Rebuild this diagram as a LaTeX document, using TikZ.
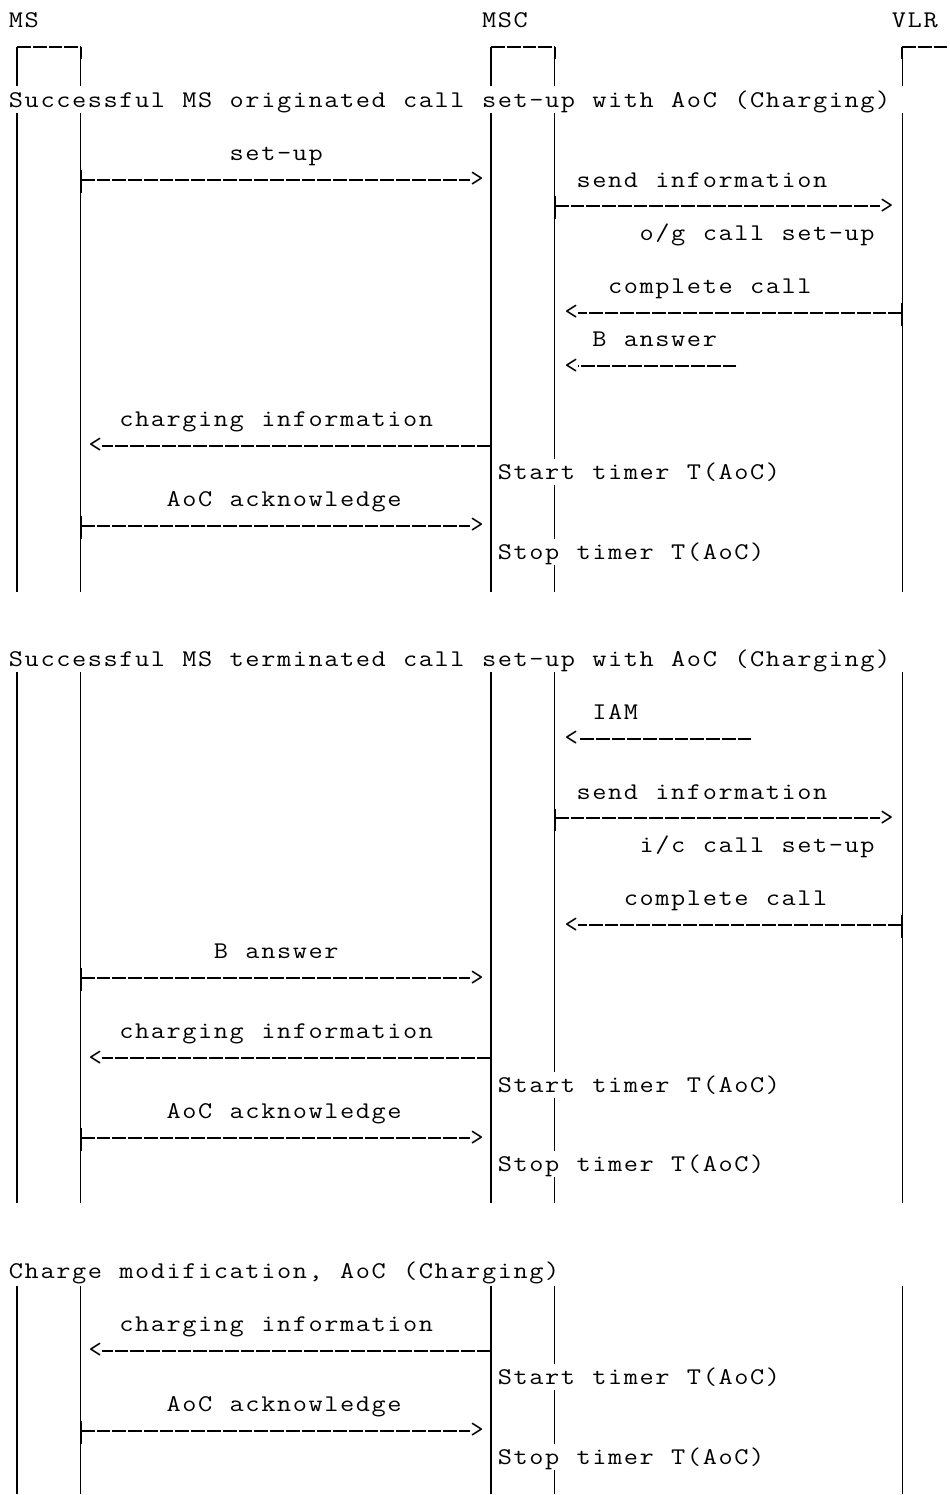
\documentclass[tikz,border=0pt]{standalone}
\usepackage{fontspec}
\usepackage{graphicx}
\newfontfamily\mono{Latin Modern Mono}

% one character per fixed cell, as on a text terminal
\newcommand\cellw{15.8pt}
\def\grid#1{\gridA#1\relax}
\def\gridA#1{\ifx#1\relax\else\makebox[\cellw]{\scalebox{1.15}[1]{#1}}\expandafter\gridA\fi}

\tikzstyle{life} = [draw, line width=1.1pt]
\tikzstyle{msg} = [draw, line width=2pt, dash pattern=on 13.8pt off 2pt]
\tikzstyle{tick} = [draw, line width=2pt]
\tikzstyle{lbl} = [font=\mono\fontsize{24}{26}\selectfont, inner sep=0pt, anchor=west, text height=20.5pt, text depth=5.5pt]
\tikzstyle{timer} = [lbl, fill=white]
\tikzstyle{head} = [font=\mono\fontsize{26}{26}\selectfont, inner sep=0pt]

\begin{document}
\begin{tikzpicture}[x=1pt, y=-26.67pt]

	\path[fill=white] (0,-0.75) rectangle (948,55.31); % page

	% entities
	\node[lbl] (ms) at (8,0) {\grid{MS}};
	\node[lbl] (msc) at (482,0) {\grid{MSC}};
	\node[lbl] (vlr) at (892.8,0) {\grid{VLR}};

	\draw[tick] (17,1.45) -- (17,1) (81,1) -- (81,1.45);
	\draw[msg] (17,1) -- (81,1);
	\draw[tick] (492,1.45) -- (492,1) (556,1) -- (556,1.45);
	\draw[msg] (492,1) -- (556,1);
	\draw[tick] (904,1.45) -- (904,1);
	\draw[msg] (904,1) -- (950,1);

	% lifelines
	\draw[life] (17,1.45) -- (17,2.5) (17,3.5) -- (17,21.5) (17,24.5) -- (17,44.45) (17,47.55) -- (17,55.4);
	\draw[life] (81,1.45) -- (81,2.5) (81,3.5) -- (81,21.5) (81,24.5) -- (81,44.45) (81,47.55) -- (81,55.4);
	\draw[life] (492,1.45) -- (492,2.5) (492,3.5) -- (492,21.5) (492,24.5) -- (492,44.45) (492,47.55) -- (492,55.4);
	\draw[life] (556,1.45) -- (556,2.5) (556,3.5) -- (556,21.5) (556,24.5) -- (556,44.45) (556,47.55) -- (556,55.4);
	\draw[life] (904,1.45) -- (904,2.5) (904,3.5) -- (904,21.5) (904,24.5) -- (904,44.45) (904,47.55) -- (904,55.4);

	% originated call
	\node[lbl] (orig) at (8,3) {\grid{Successful~MS~originated~call~set-up~with~AoC~(Charging)}};

	\node[lbl] (setup) at (229.2,5) {\grid{set-up}};
	\coordinate (o6) at (81,6);
	\node[head] (h6) at (478,6) {>};
	\draw[msg] (o6) -- (h6.west);
	\draw[tick] (o6) ++(0,-0.37) -- ++(0,0.86);

	\node[lbl] (send1) at (576.8,6) {\grid{send~information}};
	\coordinate (o7) at (556,7);
	\node[head] (h7) at (888.5,7) {>};
	\draw[msg] (o7) -- (h7.west);
	\draw[tick] (o7) ++(0,-0.37) -- ++(0,0.86);
	\node[lbl] (ogcall) at (640,8) {\grid{o/g~call~set-up}};

	\node[lbl] (compl1) at (608.4,10) {\grid{complete~call}};
	\coordinate (o11) at (904,11);
	\node[head] (h11) at (572.5,11) {<};
	\draw[msg] (o11) -- (h11.east);
	\draw[tick] (o11) ++(0,-0.37) -- ++(0,0.86);

	\node[lbl] (ans1) at (592.6,12) {\grid{B~answer}};
	\coordinate (o13) at (738,13);
	\node[head] (h13) at (572.5,13) {<};
	\draw[msg] (o13) -- (h13.east);

	\node[lbl] (chg1) at (118.6,15) {\grid{charging~information}};
	\coordinate (o16) at (492,16);
	\node[head] (h16) at (95.5,16) {<};
	\draw[msg] (o16) -- (h16.east);
	\draw[tick] (o16) ++(0,-0.37) -- ++(0,0.86);
	\node[timer] (start1) at (497.8,17) {\grid{Start~timer~T(AoC)}};

	\node[lbl] (ack1) at (166,18) {\grid{AoC~acknowledge}};
	\coordinate (o19) at (81,19);
	\node[head] (h19) at (478,19) {>};
	\draw[msg] (o19) -- (h19.west);
	\draw[tick] (o19) ++(0,-0.37) -- ++(0,0.86);
	\node[timer] (stop1) at (497.8,20) {\grid{Stop~timer~T(AoC)}};

	% terminated call
	\node[lbl] (term) at (8,24) {\grid{Successful~MS~terminated~call~set-up~with~AoC~(Charging)}};

	\node[lbl] (iam) at (592.6,26) {\grid{IAM}};
	\coordinate (o27) at (753,27);
	\node[head] (h27) at (572.5,27) {<};
	\draw[msg] (o27) -- (h27.east);

	\node[lbl] (send2) at (576.8,29) {\grid{send~information}};
	\coordinate (o30) at (556,30);
	\node[head] (h30) at (888.5,30) {>};
	\draw[msg] (o30) -- (h30.west);
	\draw[tick] (o30) ++(0,-0.37) -- ++(0,0.86);
	\node[lbl] (iccall) at (640,31) {\grid{i/c~call~set-up}};

	\node[lbl] (compl2) at (624.2,33) {\grid{complete~call}};
	\coordinate (o34) at (904,34);
	\node[head] (h34) at (572.5,34) {<};
	\draw[msg] (o34) -- (h34.east);
	\draw[tick] (o34) ++(0,-0.37) -- ++(0,0.86);

	\node[lbl] (ans2) at (213.4,35) {\grid{B~answer}};
	\coordinate (o36) at (81,36);
	\node[head] (h36) at (478,36) {>};
	\draw[msg] (o36) -- (h36.west);
	\draw[tick] (o36) ++(0,-0.37) -- ++(0,0.86);

	\node[lbl] (chg2) at (118.6,38) {\grid{charging~information}};
	\coordinate (o39) at (492,39);
	\node[head] (h39) at (95.5,39) {<};
	\draw[msg] (o39) -- (h39.east);
	\draw[tick] (o39) ++(0,-0.37) -- ++(0,0.86);
	\node[timer] (start2) at (497.8,40) {\grid{Start~timer~T(AoC)}};

	\node[lbl] (ack2) at (166,41) {\grid{AoC~acknowledge}};
	\coordinate (o42) at (81,42);
	\node[head] (h42) at (478,42) {>};
	\draw[msg] (o42) -- (h42.west);
	\draw[tick] (o42) ++(0,-0.37) -- ++(0,0.86);
	\node[timer] (stop2) at (497.8,43) {\grid{Stop~timer~T(AoC)}};

	% charge modification
	\node[lbl] (mod) at (8,47) {\grid{Charge~modification,~AoC~(Charging)}};

	\node[lbl] (chg3) at (118.6,49) {\grid{charging~information}};
	\coordinate (o50) at (492,50);
	\node[head] (h50) at (95.5,50) {<};
	\draw[msg] (o50) -- (h50.east);
	\draw[tick] (o50) ++(0,-0.37) -- ++(0,0.86);
	\node[timer] (start3) at (497.8,51) {\grid{Start~timer~T(AoC)}};

	\node[lbl] (ack3) at (166,52) {\grid{AoC~acknowledge}};
	\coordinate (o53) at (81,53);
	\node[head] (h53) at (478,53) {>};
	\draw[msg] (o53) -- (h53.west);
	\draw[tick] (o53) ++(0,-0.37) -- ++(0,0.86);
	\node[timer] (stop3) at (497.8,54) {\grid{Stop~timer~T(AoC)}};

\end{tikzpicture}
\end{document}
